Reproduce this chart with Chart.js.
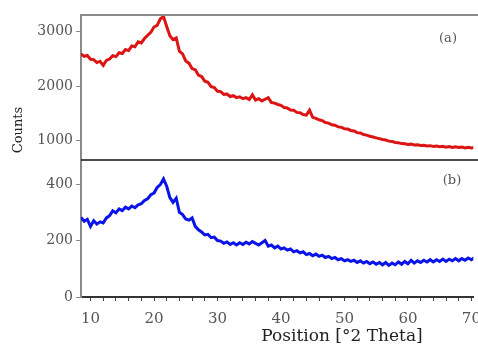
<!DOCTYPE html>
<html>
<head>
<meta charset="utf-8">
<script src="https://cdn.jsdelivr.net/npm/chart.js@4/dist/chart.umd.min.js"></script>
<style>
  html, body { margin: 0; padding: 0; background: #fff; overflow: hidden; }
  #xrd { display: block; }
</style>
</head>
<body>
<canvas id="xrd" width="490" height="347"></canvas>
<script>
// 2θ positions (degrees)
const positions = [
  8.5, 9, 9.5, 10, 10.5, 11, 11.5, 12, 12.5, 13, 13.5, 14, 14.5, 15, 15.5, 16, 16.5, 17, 17.5, 18,
  18.5, 19, 19.5, 20, 20.5, 21, 21.5, 22, 22.5, 23, 23.5, 24, 24.5, 25, 25.5, 26, 26.5, 27, 27.5, 28,
  28.5, 29, 29.5, 30, 30.5, 31, 31.5, 32, 32.5, 33, 33.5, 34, 34.5, 35, 35.5, 36, 36.5, 37, 37.5, 38,
  38.5, 39, 39.5, 40, 40.5, 41, 41.5, 42, 42.5, 43, 43.5, 44, 44.5, 45, 45.5, 46, 46.5, 47, 47.5, 48,
  48.5, 49, 49.5, 50, 50.5, 51, 51.5, 52, 52.5, 53, 53.5, 54, 54.5, 55, 55.5, 56, 56.5, 57, 57.5, 58,
  58.5, 59, 59.5, 60, 60.5, 61, 61.5, 62, 62.5, 63, 63.5, 64, 64.5, 65, 65.5, 66, 66.5, 67, 67.5, 68,
  68.5, 69, 69.5, 70, 70.5
]

// pattern (a), counts
const countsA = [
  2590, 2545, 2560, 2490, 2485, 2430, 2455, 2380, 2470, 2495, 2555, 2540, 2610, 2595, 2670, 2650, 2735, 2720, 2810, 2790,
  2870, 2930, 2985, 3080, 3110, 3230, 3270, 3090, 2920, 2850, 2880, 2640, 2590, 2460, 2420, 2320, 2300, 2200, 2175, 2090,
  2070, 1990, 1975, 1905, 1900, 1850, 1855, 1810, 1825, 1790, 1805, 1770, 1790, 1755, 1840, 1745, 1770, 1730, 1760, 1790,
  1700, 1690, 1665, 1650, 1610, 1600, 1565, 1560, 1520, 1515, 1480, 1470, 1560, 1430, 1410, 1385, 1370, 1335, 1325, 1295,
  1285, 1255, 1250, 1220, 1215, 1190, 1180, 1150, 1145, 1115, 1105, 1085, 1070, 1055, 1040, 1025, 1015, 995, 990, 970,
  965, 950, 948, 935, 940, 925, 930, 915, 920, 905, 912, 898, 905, 892, 900, 885, 895, 880, 892, 878,
  885, 872, 884, 870, 878
]

// pattern (b), counts
const countsB = [
  282, 268, 275, 250, 270, 258, 266, 262, 280, 288, 305, 298, 312, 306, 318, 312, 322, 316, 326, 330,
  342, 348, 362, 368, 388, 398, 418, 392, 352, 335, 350, 300, 292, 276, 272, 280, 250, 238, 230, 220,
  222, 210, 212, 200, 198, 190, 195, 186, 192, 184, 192, 186, 194, 188, 196, 190, 184, 192, 200, 180,
  184, 174, 180, 170, 174, 166, 170, 160, 164, 156, 160, 150, 154, 146, 152, 144, 148, 140, 144, 136,
  140, 132, 136, 128, 132, 126, 130, 122, 128, 120, 126, 118, 124, 116, 122, 114, 122, 112, 120, 114,
  124, 116, 126, 118, 130, 120, 128, 122, 130, 124, 132, 124, 132, 126, 134, 126, 134, 128, 136, 128,
  136, 130, 138, 132, 140
]

const xTicks = [10, 20, 30, 40, 50, 60, 70]
const xMinorTicks = [12, 14, 16, 18, 22, 24, 26, 28, 32, 34, 36, 38, 42, 44, 46, 48, 52, 54, 56, 58, 62, 64, 66, 68]
const yTicksA = [1000, 2000, 3000]
const yTicksB = [0, 200, 400]

const toPoints = (ys) => positions.map((x, i) => ({ x, y: ys[i] }))

const serif = 'DejaVu Serif'

const yAxis = (ticks, min, max, weight) => ({
  type: 'linear',
  position: 'left',
  stack: 'xrd',
  stackWeight: weight,
  min,
  max,
  afterBuildTicks: (scale) => { scale.ticks = ticks.map((v) => ({ value: v })) },
  afterFit: (scale) => { scale.width = 81 },
  border: { color: '#8a8a8a', width: 2 },
  grid: { drawOnChartArea: false, tickLength: 5, color: '#8a8a8a' },
  ticks: {
    padding: 3,
    color: '#555',
    font: { family: serif, size: 14 },
    callback: (v) => String(v),
  },
})

const decorations = {
  id: 'decorations',
  afterDraw(chart) {
    const { ctx, chartArea: a, scales } = chart
    ctx.save()
    // panel frame lines
    ctx.strokeStyle = '#8a8a8a'
    ctx.lineWidth = 2
    ctx.beginPath()
    ctx.moveTo(a.left, a.top)
    ctx.lineTo(a.right + 12, a.top)
    ctx.stroke()
    ctx.strokeStyle = '#111'
    ctx.lineWidth = 1.5
    ctx.beginPath()
    ctx.moveTo(a.left, scales.ya.bottom)
    ctx.lineTo(a.right + 12, scales.ya.bottom)
    ctx.stroke()

    ctx.fillStyle = '#555'
    ctx.font = `13px "${serif}"`
    ctx.textAlign = 'center'
    ctx.textBaseline = 'middle'
    ctx.fillText('(a)', 448, 39)
    ctx.fillText('(b)', 452, 181)

    ctx.fillStyle = '#222'
    ctx.font = `17px "${serif}"`
    ctx.fillText('Position [°2 Theta]', 342, 337)

    ctx.translate(19, 130)
    ctx.rotate(-Math.PI / 2)
    ctx.font = `13px "${serif}"`
    ctx.fillText('Counts', 0, 0)
    ctx.restore()
  },
}

new Chart(document.getElementById('xrd'), {
  type: 'line',
  data: {
    datasets: [
      {
        label: '(b)',
        data: toPoints(countsB),
        yAxisID: 'yb',
        borderColor: '#0a14e6',
        borderWidth: 3,
        pointRadius: 0,
        tension: 0,
      },
      {
        label: '(a)',
        data: toPoints(countsA),
        yAxisID: 'ya',
        borderColor: '#dc1414',
        borderWidth: 3,
        pointRadius: 0,
        tension: 0,
      },
    ],
  },
  options: {
    responsive: false,
    animation: false,
    layout: { padding: { left: 0, right: 12, top: 15, bottom: 0 } },
    plugins: {
      legend: { display: false },
      tooltip: { enabled: false },
    },
    scales: {
      x: {
        type: 'linear',
        min: 8.5,
        max: 70.3,
        afterBuildTicks: (scale) => {
          scale.ticks = xTicks.concat(xMinorTicks).sort((p, q) => p - q).map((v) => ({ value: v }))
        },
        afterFit: (scale) => { scale.height = 50 },
        border: { color: '#333', width: 2 },
        grid: { drawOnChartArea: false, tickLength: 4, color: '#444' },
        ticks: {
          autoSkip: false,
          maxRotation: 0,
          padding: 9,
          color: '#555',
          font: { family: serif, size: 15 },
          callback: (v) => (xTicks.includes(v) ? String(v) : ''),
        },
      },
      yb: yAxis(yTicksB, 0, 485, 137),
      ya: yAxis(yTicksA, 650, 3300, 145),
    },
  },
  plugins: [decorations],
})
</script>
</body>
</html>
